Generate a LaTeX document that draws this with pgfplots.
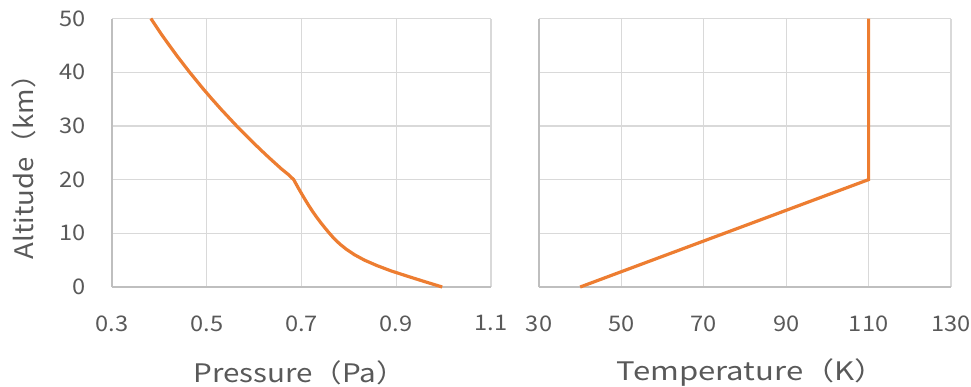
\documentclass[border=0pt]{standalone}
\usepackage{fontspec}
\setmainfont{Noto Sans CJK JP}
\usepackage{graphicx}
\usepackage{pgfplots}
\pgfplotsset{compat=1.18}
\definecolor{orng}{HTML}{ED7D31}
\definecolor{gridc}{HTML}{D9D9D9}
\definecolor{axc}{HTML}{BFBFBF}
\definecolor{txt}{HTML}{595959}
\begin{document}
\begin{tikzpicture}
\useasboundingbox (0pt,0pt) rectangle (971pt,386pt);
\pgfplotsset{myax/.style={
  scale only axis, height=268.5pt, ymin=0, ymax=50, ytick={0,10,...,50},
  grid=major, major grid style={gridc, line width=1.2pt},
  axis lines*=left, axis line style={axc, line width=1.2pt},
  major tick length=0pt,
  /pgf/number format/assume math mode=true,
  tick label style={font=\fontsize{21.5}{21.5}\selectfont, text=txt, xscale=1.1},
  yticklabel style={xshift=-20pt},
  xticklabel style={yshift=-25pt},
  label style={font=\fontsize{25.5}{25.5}\selectfont, text=txt},
  clip=false,
}}
\begin{axis}[myax, at={(112pt,99pt)}, anchor=south west, width=379pt,
  xmin=0.3, xmax=1.1, xtick={0.3,0.5,0.7,0.9,1.1},
  xticklabel style={/pgf/number format/.cd, fixed, fixed zerofill, precision=1},
  xlabel={\scalebox{1.16}[1]{Pressure（Pa）}},
  ylabel={\scalebox{1.08}[1]{Altitude（km）}},
  xlabel style={at={(rel axis cs:0.495,-0.32)}, anchor=center},
  ylabel style={at={(rel axis cs:-0.232,0.472)}, anchor=center}]
\addplot[orng, line width=3.2pt, line join=round] coordinates {
(0.997,0) (0.960,1) (0.924,2) (0.889,3) (0.859,4) (0.833,5) (0.812,6)
(0.795,7) (0.781,8) (0.769,9) (0.759,10) (0.7495,11) (0.7405,12) (0.732,13)
(0.724,14) (0.7165,15) (0.7095,16) (0.7027,17) (0.6961,18) (0.6897,19)
(0.6835,20) (0.6715,21) (0.6575,22) (0.6325,24) (0.6204,25) (0.5967,27)
(0.563,30) (0.5312,33) (0.511,35) (0.4915,37) (0.4638,40) (0.4375,43)
(0.421,45) (0.4048,47) (0.382,50)};
\end{axis}
\begin{axis}[myax, at={(539pt,99pt)}, anchor=south west, width=412pt,
  xmin=30, xmax=130, xtick={30,50,...,130}, yticklabels={},
  xlabel={\scalebox{1.22}[1]{Temperature（K）}},
  xlabel style={at={(rel axis cs:0.515,-0.32)}, anchor=center}]
\addplot[orng, line width=3.2pt] coordinates {(40,0) (110,20) (110,50)};
\end{axis}
\end{tikzpicture}
\end{document}
